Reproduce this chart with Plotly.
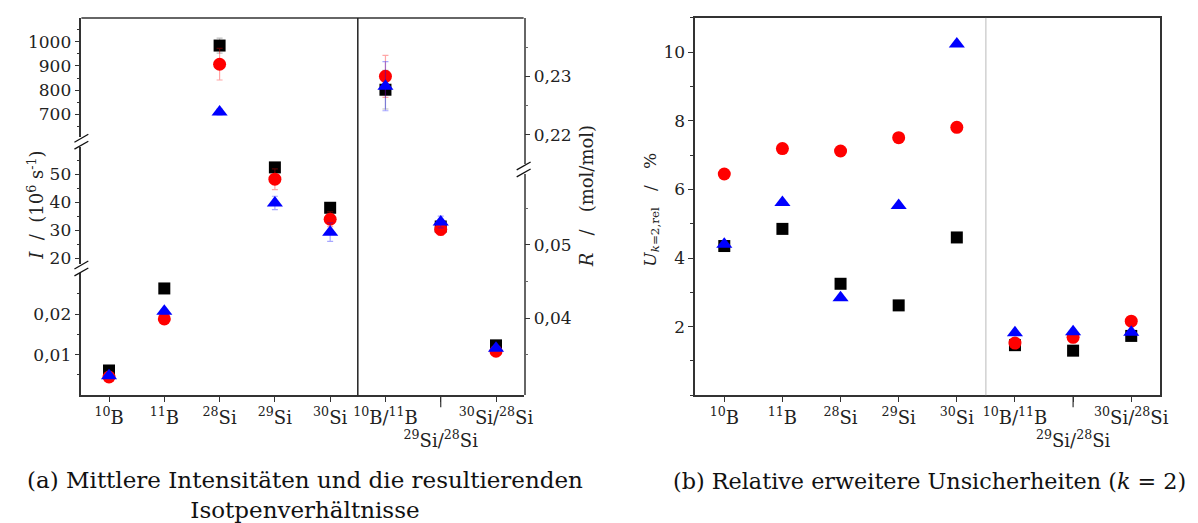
import plotly.graph_objects as go

# ---------------- data ----------------
categories = ["10B", "11B", "28Si", "29Si", "30Si", "10B/11B", "29Si/28Si", "30Si/28Si"]
tick_labels = ["<sup>10</sup>B", "<sup>11</sup>B", "<sup>28</sup>Si", "<sup>29</sup>Si", "<sup>30</sup>Si",
               "<sup>10</sup>B/<sup>11</sup>B", "<br><sup>29</sup>Si/<sup>28</sup>Si",
               "<sup>30</sup>Si/<sup>28</sup>Si"]

# intensities (10^6 s^-1) for isotopes (first five categories)
I_black = [0.0061, 0.0263, 984, 52.5, 38.1]
I_black_err = [0.0003, 0.0006, 31, 1.2, 0.9]
I_red = [0.0045, 0.0188, 907, 48.3, 34.0]
I_red_err = [0.0003, 0.0007, 65, 3.7, 2.6]
I_blue = [0.0048, 0.0207, 710, 39.8, 29.4]
I_blue_err = [0.0002, 0.0006, 12, 2.4, 3.3]

# isotope ratios (mol/mol) for last three categories
R_black = [0.2277, 0.0525, 0.0363]
R_black_err = [0.0033, 0.0007, 0.0003]
R_red = [0.2300, 0.0521, 0.0355]
R_red_err = [0.0036, 0.0008, 0.0004]
R_blue = [0.2283, 0.0531, 0.0359]
R_blue_err = [0.0042, 0.0008, 0.0003]

# relative expanded uncertainties (%)
U_black = [4.35, 4.85, 3.25, 2.62, 4.60, 1.46, 1.30, 1.73]
U_red = [6.45, 7.19, 7.12, 7.51, 7.81, 1.52, 1.69, 2.16]
U_blue = [4.40, 5.62, 2.84, 5.53, 10.24, 1.82, 1.85, 1.84]

# axis segments (broken axes)
I_ranges = [(0.0, 0.030), (18.2, 59.9), (608, 1098)]
I_tickvals = [[0.01, 0.02], [20, 30, 40, 50], [700, 800, 900, 1000]]
I_ticktext = [["0,01", "0,02"], ["20", "30", "40", "50"], ["700", "800", "900", "1000"]]
I_minor = [[0.005, 0.015, 0.025], [25, 35, 45, 55], [650, 750, 850, 950, 1050]]

R_ranges = [(0.0295, 0.0596), (0.2149, 0.240)]
R_tickvals = [[0.04, 0.05], [0.22, 0.23]]
R_ticktext = [["0,04", "0,05"], ["0,22", "0,23"]]
R_minor = [[0.035, 0.045, 0.055], [0.225, 0.235]]

U_range = (0, 11)
U_tickvals = [2, 4, 6, 8, 10]

# ---------------- layout helpers ----------------
W, H = 1198, 523
FONT = "DejaVu Serif"
TXT = "#222222"


def fx(p):
    return p / W


def fy(p):
    return 1 - p / H


def ydom(top_px, bot_px):
    return [fy(bot_px), fy(top_px)]


A_X = (74, 520)
B_X = (693, 1162)
TOP, BOT = 10, 391
I_dom_px = [(268, 391), (140, 258), (10, 130)]
R_dom_px = [(168, 391), (10, 158)]

series = [
    ("black", "square", 12, "rgba(0,0,0,0.25)", I_black, I_black_err, R_black, R_black_err, U_black),
    ("#ff0000", "circle", 13, "rgba(255,0,0,0.35)", I_red, I_red_err, R_red, R_red_err, U_red),
    ("#0000ff", "triangle-up", 14, "rgba(0,0,255,0.35)", I_blue, I_blue_err, R_blue, R_blue_err, U_blue),
]

fig = go.Figure()

I_axes = ["y", "y2", "y3"]
R_axes = ["y4", "y5"]

for color, sym, size, ecol, Iv, Ie, Rv, Re, Uv in series:
    # intensities on left broken axis
    for seg, (lo, hi) in enumerate(I_ranges):
        xs, ys, es = [], [], []
        for i, (v, e) in enumerate(zip(Iv, Ie)):
            if lo <= v <= hi:
                xs.append(i)
                ys.append(v)
                es.append(e)
        if xs:
            fig.add_trace(go.Scatter(
                x=xs, y=ys, mode="markers", xaxis="x", yaxis=I_axes[seg],
                marker=dict(symbol=sym, size=size, color=color, line=dict(width=0)),
                error_y=dict(type="data", array=es, color=ecol, thickness=1.2, width=3),
                showlegend=False, cliponaxis=False))
    # ratios on right broken axis
    for seg, (lo, hi) in enumerate(R_ranges):
        xs, ys, es = [], [], []
        for j, (v, e) in enumerate(zip(Rv, Re)):
            if lo <= v <= hi:
                xs.append(5 + j)
                ys.append(v)
                es.append(e)
        if xs:
            fig.add_trace(go.Scatter(
                x=xs, y=ys, mode="markers", xaxis="x", yaxis=R_axes[seg],
                marker=dict(symbol=sym, size=size, color=color, line=dict(width=0)),
                error_y=dict(type="data", array=es, color=ecol, thickness=1.2, width=3),
                showlegend=False, cliponaxis=False))
    # uncertainties panel b
    fig.add_trace(go.Scatter(
        x=list(range(len(categories))), y=Uv, mode="markers", xaxis="x2", yaxis="y6",
        marker=dict(symbol=sym, size=size, color=color, line=dict(width=0)),
        showlegend=False, cliponaxis=False))

tickfont = dict(family=FONT, size=17, color=TXT)
xtickfont = dict(family=FONT, size=18, color=TXT)
AXC = "#333333"

layout = dict(
    width=W, height=H, margin=dict(l=0, r=0, t=0, b=0),
    paper_bgcolor="white", plot_bgcolor="rgba(0,0,0,0)",
    font=dict(family=FONT, size=17, color=TXT),
    showlegend=False,
)

xcommon = dict(range=[-0.5, 7.5], tickvals=list(range(len(categories))), ticktext=tick_labels,
               ticks="outside", ticklen=5, tickwidth=1.2, tickcolor=AXC, showline=True,
               linecolor=AXC, linewidth=1.5, showgrid=False, zeroline=False, tickfont=xtickfont,
               tickangle=0, fixedrange=True)
layout["xaxis"] = dict(xcommon, domain=[fx(A_X[0]), fx(A_X[1])], anchor="y")
layout["xaxis2"] = dict(xcommon, domain=[fx(B_X[0]), fx(B_X[1])], anchor="y6", mirror=True)

ycommon = dict(ticks="outside", ticklen=5, tickwidth=1.2, tickcolor=AXC, showline=True,
               linecolor=AXC, linewidth=1.5, showgrid=False, zeroline=False, tickfont=tickfont)
for k in range(3):
    name = "yaxis" if k == 0 else "yaxis%d" % (k + 1)
    layout[name] = dict(ycommon, domain=ydom(*I_dom_px[k]), range=list(I_ranges[k]), anchor="x",
                        side="left", tickvals=I_tickvals[k], ticktext=I_ticktext[k],
                        minor=dict(tickvals=I_minor[k], ticks="outside", ticklen=3, tickcolor=AXC))
for k in range(2):
    name = "yaxis%d" % (k + 4)
    layout[name] = dict(ycommon, domain=ydom(*R_dom_px[k]), range=list(R_ranges[k]), anchor="x",
                        side="right", tickvals=R_tickvals[k], ticktext=R_ticktext[k],
                        linecolor="#666666",
                        minor=dict(tickvals=R_minor[k], ticks="outside", ticklen=3, tickcolor="#666666"))
layout["yaxis6"] = dict(ycommon, domain=ydom(TOP, BOT), range=list(U_range), anchor="x2",
                        tickvals=U_tickvals, mirror=True,
                        minor=dict(dtick=1, ticks="outside", ticklen=3, tickcolor=AXC))

fig.update_layout(**layout)

# ---------------- decorations ----------------
shapes = []
# top frame line of panel a
shapes.append(dict(type="line", xref="paper", yref="paper", x0=fx(A_X[0]), x1=fx(A_X[1]),
                   y0=fy(TOP), y1=fy(TOP), line=dict(color=AXC, width=1.5)))
# dividers between isotopes and ratios
shapes.append(dict(type="line", xref="x", yref="paper", x0=4.5, x1=4.5, y0=fy(BOT), y1=fy(TOP),
                   line=dict(color="#222222", width=1.5)))
shapes.append(dict(type="line", xref="x2", yref="paper", x0=4.5, x1=4.5, y0=fy(BOT), y1=fy(TOP),
                   line=dict(color="#bbbbbb", width=1)))
# long tick under middle ratio label
for xr in ("x", "x2"):
    shapes.append(dict(type="line", xref=xr, yref="paper", x0=6, x1=6, y0=fy(BOT), y1=fy(BOT + 12),
                       line=dict(color=AXC, width=1.2)))


# break marks
def brk(xpx, ypx):
    out = []
    for off in (-3.5, 3.5):
        out.append(dict(type="line", xref="paper", yref="paper",
                        x0=fx(xpx - 7), y0=fy(ypx + off + 4), x1=fx(xpx + 7), y1=fy(ypx + off - 4),
                        line=dict(color="#111111", width=1.3)))
    return out


shapes += brk(A_X[0], (I_dom_px[2][1] + I_dom_px[1][0]) / 2)
shapes += brk(A_X[0], (I_dom_px[1][1] + I_dom_px[0][0]) / 2)
shapes += brk(A_X[1], (R_dom_px[1][1] + R_dom_px[0][0]) / 2)
fig.update_layout(shapes=shapes)

ann = []
NB = "\u00a0"
ann.append(dict(text="<i>I</i>" + NB * 2 + "/" + NB * 2 + "(10<sup>6</sup> s<sup>-1</sup>)",
                x=fx(28), y=fy(199), xref="paper", yref="paper", textangle=-90, showarrow=False,
                font=dict(family=FONT, size=18, color=TXT), xanchor="center", yanchor="middle"))
ann.append(dict(text="<i>R</i>" + NB * 3 + "/" + NB * 3 + "(mol/mol)",
                x=fx(583), y=fy(190), xref="paper", yref="paper", textangle=-90, showarrow=False,
                font=dict(family=FONT, size=18, color=TXT), xanchor="center", yanchor="middle"))
ann.append(dict(text="<i>U</i><sub><i>k</i>=2,rel</sub>" + NB * 3 + "/" + NB * 3 + "%",
                x=fx(648), y=fy(204), xref="paper", yref="paper", textangle=-90, showarrow=False,
                font=dict(family=FONT, size=17, color=TXT), xanchor="center", yanchor="middle"))
ann.append(dict(text="(a) Mittlere Intensitäten und die resultierenden<br>Isotpenverhältnisse",
                x=fx(300), y=fy(461), xref="paper", yref="paper", showarrow=False,
                font=dict(family=FONT, size=23, color="#111111"), xanchor="center", yanchor="top",
                align="center"))
ann.append(dict(text="(b) Relative erweitere Unsicherheiten (<i>k</i> = 2)",
                x=fx(929), y=fy(462), xref="paper", yref="paper", showarrow=False,
                font=dict(family=FONT, size=22.3, color="#111111"), xanchor="center", yanchor="top"))
fig.update_layout(annotations=ann)

fig.write_html("out.html")
